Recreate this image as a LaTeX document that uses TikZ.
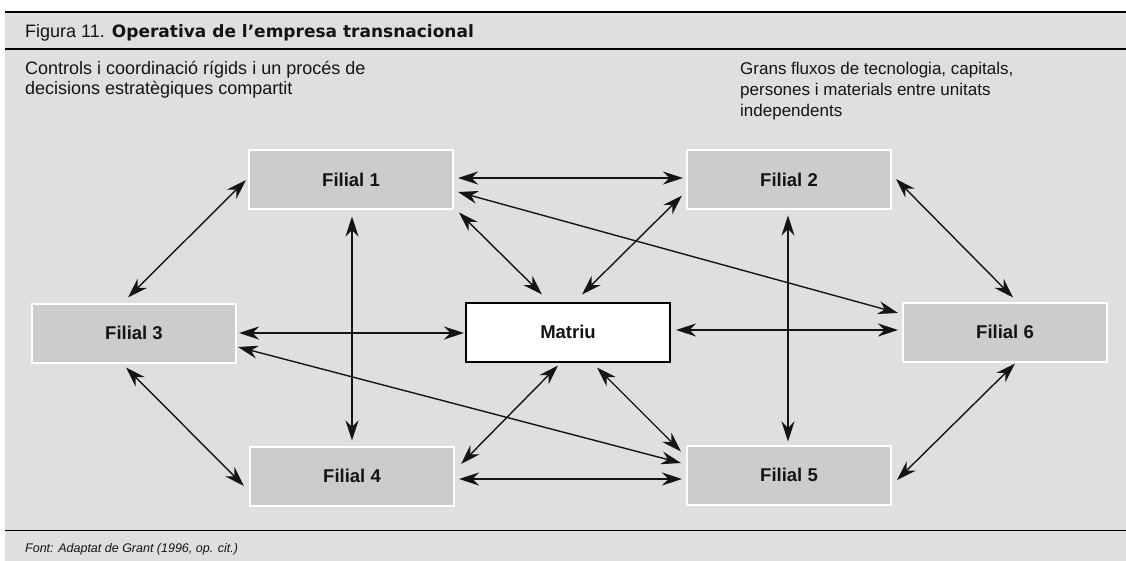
\documentclass[tikz,border=0pt]{standalone}
\usepackage{fontspec}
\setmainfont{Liberation Sans}
\newfontfamily\heavyfont{DejaVu Sans}
\usetikzlibrary{arrows.meta,calc}
\definecolor{panel}{HTML}{DFDFDF}
\definecolor{boxfill}{HTML}{CCCCCC}
\definecolor{ink}{HTML}{141414}
\tikzset{
  filial/.style={rectangle, minimum width=204pt, minimum height=59pt, inner sep=0pt,
    fill=boxfill, draw=white, line width=2pt, text=ink,
    font=\fontsize{18.5}{20}\selectfont\bfseries},
  hq/.style={filial, fill=white, draw=black},
  link/.style={{Stealth[length=20pt,width=13pt,inset=6.5pt]}-{Stealth[length=20pt,width=13pt,inset=6.5pt]},
    line width=1.4pt, draw=ink},
  rule/.style={draw=black},
  note/.style={anchor=base west, inner sep=0pt, align=left, text=ink}
}
\begin{document}
\begin{tikzpicture}[x=1pt,y=-1pt]
\useasboundingbox (0,0) rectangle (1126,561);
\fill[white] (0,0) rectangle (1126,561);
\fill[panel] (5,11) rectangle (1126,561);

% header and footer rules
\draw[rule, line width=2.5pt] (5,12) -- (1126,12);
\draw[rule, line width=2.5pt] (5,49) -- (1126,49);
\draw[rule, line width=1pt] (5,530) -- (1126,530);

% captions (base anchor of a multi-line note sits on its last line)
\node[note] (title) at (25,38)
  {\fontsize{18}{20}\selectfont Figura 11.\hspace{7pt}{\heavyfont\bfseries\fontsize{17}{20}\selectfont Operativa de l’empresa transnacional}};
\node[note, font=\fontsize{18}{20}\selectfont] (ctrl) at (25,95)
  {Controls i coordinació rígids i un procés de\\decisions estratègiques compartit};
\node[note, font=\fontsize{17}{21}\selectfont] (flux) at (740,117)
  {Grans fluxos de tecnologia, capitals,\\persones i materials entre unitats\\independents};
\node[note, font=\fontsize{12.5}{15}\selectfont\itshape] (src) at (25,552)
  {Font: Adaptat de Grant (1996, op. cit.)};

% units
\node[filial] (f1) at (351,180) {Filial 1};
\node[filial] (f2) at (789,180) {Filial 2};
\node[filial] (f3) at (134,333) {Filial 3};
\node[hq]     (m)  at (568,332) {Matriu};
\node[filial] (f6) at (1005,332) {Filial 6};
\node[filial] (f4) at (352,476) {Filial 4};
\node[filial] (f5) at (789,475) {Filial 5};

% flows between units
\draw[link] ($(f1.east)+(4,-2)$) -- ($(f2.west)+(-3,-2)$);
\draw[link] ($(f1.east)+(4,12)$) -- ($(f6.west)+(-4,-19)$);
\draw[link] ($(f1.south east)+(5,2)$) -- ($(m.north)+(-26,-7)$);
\draw[link] ($(f2.south west)+(-4,-15)$) -- ($(m.north)+(14,-7)$);
\draw[link] ($(f1.south)+(1,6)$) -- ($(f4.north)+(0,-5)$);
\draw[link] ($(f3.east)+(2,0)$) -- ($(m.west)+(-1,1)$);
\draw[link] ($(f3.east)+(1,14)$) -- ($(f5.west)+(-5,-12)$);
\draw[link] ($(m.south)+(29,5)$) -- ($(f5.north west)+(-5,7)$);
\draw[link] ($(m.south)+(-10,3)$) -- ($(f4.east)+(6,-12)$);
\draw[link] ($(f4.east)+(4,3)$) -- ($(f5.west)+(-4,4)$);
\draw[link] ($(f3.north)+(-6,-5)$) -- ($(f1.west)+(-2,0)$);
\draw[link] ($(f3.south)+(-8,4)$) -- ($(f4.west)+(-5,10)$);
\draw[link] ($(f2.east)+(4,-1)$) -- ($(f6.north)+(8,-4)$);
\draw[link] ($(f6.south)+(10,1)$) -- ($(f5.east)+(5,5)$);
\draw[link] ($(m.east)+(5,-2)$) -- ($(f6.west)+(-4,-2)$);
\draw[link] ($(f2.south)+(-1,5)$) -- ($(f5.north)+(-1,-3)$);
\end{tikzpicture}
\end{document}
